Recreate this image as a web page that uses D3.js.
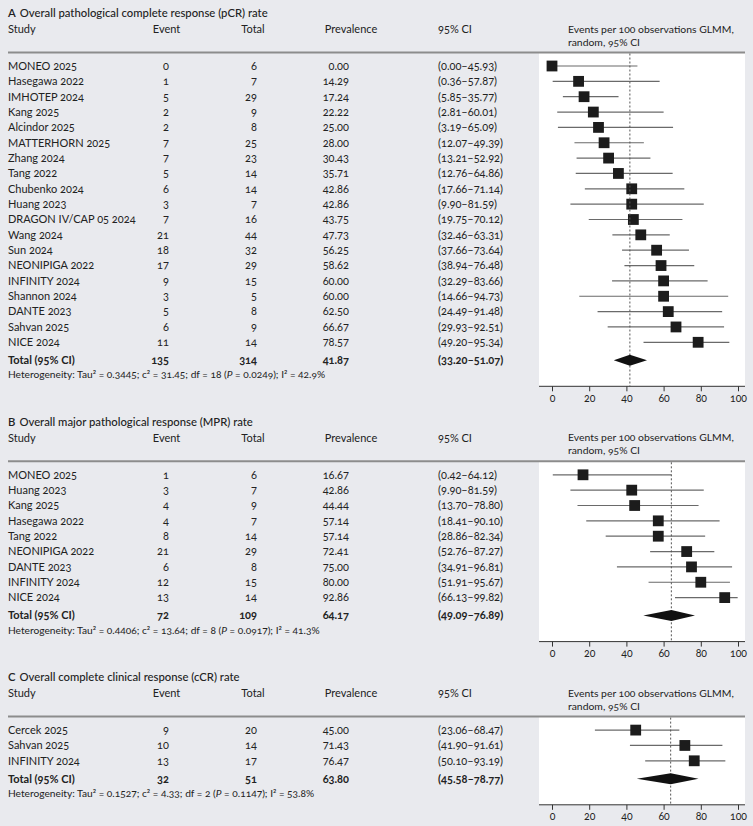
<!DOCTYPE html>
<html>
<head>
<meta charset="utf-8">
<script src="https://cdn.jsdelivr.net/npm/d3@7"></script>
<style>
body { margin: 0; background: #e9eaee; }
svg { display: block; font-family: Lato, "Open Sans", sans-serif; font-size: 11px; }
text { fill: #222; font-variant-numeric: oldstyle-nums; }
</style>
</head>
<body>
<svg id="chart" width="753" height="826"></svg>
<script>
// panel A - pCR
const pcrStudies = ["MONEO 2025", "Hasegawa 2022", "IMHOTEP 2024", "Kang 2025", "Alcindor 2025", "MATTERHORN 2025",
    "Zhang 2024", "Tang 2022", "Chubenko 2024", "Huang 2023", "DRAGON IV/CAP 05 2024", "Wang 2024", "Sun 2024",
    "NEONIPIGA 2022", "INFINITY 2024", "Shannon 2024", "DANTE 2023", "Sahvan 2025", "NICE 2024"];
const pcrEvents = [0, 1, 5, 2, 2, 7, 7, 5, 6, 3, 7, 21, 18, 17, 9, 3, 5, 6, 11];
const pcrTotals = [6, 7, 29, 9, 8, 25, 23, 14, 14, 7, 16, 44, 32, 29, 15, 5, 8, 9, 14];
const pcrPrev = [0.00, 14.29, 17.24, 22.22, 25.00, 28.00, 30.43, 35.71, 42.86, 42.86, 43.75, 47.73, 56.25, 58.62, 60.00, 60.00, 62.50, 66.67, 78.57];
const pcrLow = [0.00, 0.36, 5.85, 2.81, 3.19, 12.07, 13.21, 12.76, 17.66, 9.90, 19.75, 32.46, 37.66, 38.94, 32.29, 14.66, 24.49, 29.93, 49.20];
const pcrHigh = [45.93, 57.87, 35.77, 60.01, 65.09, 49.39, 52.92, 64.86, 71.14, 81.59, 70.12, 63.31, 73.64, 76.48, 83.66, 94.73, 91.48, 92.51, 95.34];
const pcrPooled = [135, 314, 41.87, 33.20, 51.07];
const pcrHet = ["0.3445", "31.45", "18", "0.0249", "42.9%"];

// panel B - MPR
const mprStudies = ["MONEO 2025", "Huang 2023", "Kang 2025", "Hasegawa 2022", "Tang 2022", "NEONIPIGA 2022", "DANTE 2023", "INFINITY 2024", "NICE 2024"];
const mprEvents = [1, 3, 4, 4, 8, 21, 6, 12, 13];
const mprTotals = [6, 7, 9, 7, 14, 29, 8, 15, 14];
const mprPrev = [16.67, 42.86, 44.44, 57.14, 57.14, 72.41, 75.00, 80.00, 92.86];
const mprLow = [0.42, 9.90, 13.70, 18.41, 28.86, 52.76, 34.91, 51.91, 66.13];
const mprHigh = [64.12, 81.59, 78.80, 90.10, 82.34, 87.27, 96.81, 95.67, 99.82];
const mprPooled = [72, 109, 64.17, 49.09, 76.89];
const mprHet = ["0.4406", "13.64", "8", "0.0917", "41.3%"];

// panel C - cCR
const ccrStudies = ["Cercek 2025", "Sahvan 2025", "INFINITY 2024"];
const ccrEvents = [9, 10, 13];
const ccrTotals = [20, 14, 17];
const ccrPrev = [45.00, 71.43, 76.47];
const ccrLow = [23.06, 41.90, 50.10];
const ccrHigh = [68.47, 91.61, 93.19];
const ccrPooled = [32, 51, 63.80, 45.58, 78.77];
const ccrHet = ["0.1527", "4.33", "2", "0.1147", "53.8%"];

const titles = ["Overall pathological complete response (pCR) rate",
    "Overall major pathological response (MPR) rate",
    "Overall complete clinical response (cCR) rate"];
const letters = ["A", "B", "C"];
const axisTicks = [0, 20, 40, 60, 80, 100];

function rows(studies, events, totals, prev, low, high) {
    return studies.map((s, i) => ({study: s, event: events[i], total: totals[i], prev: prev[i], lo: low[i], hi: high[i]}));
}

const panels = [
    {rows: rows(pcrStudies, pcrEvents, pcrTotals, pcrPrev, pcrLow, pcrHigh), pooled: pcrPooled, het: pcrHet},
    {rows: rows(mprStudies, mprEvents, mprTotals, mprPrev, mprLow, mprHigh), pooled: mprPooled, het: mprHet},
    {rows: rows(ccrStudies, ccrEvents, ccrTotals, ccrPrev, ccrLow, ccrHigh), pooled: ccrPooled, het: ccrHet}
];

const svg = d3.select('#chart');
const f2 = d3.format('.2f');
const ci = (lo, hi) => `(${f2(lo)}\u2013${f2(hi)})`;

const x = d3.scaleLinear().domain([0, 100]).range([552, 738]);
const boxLeft = 539, boxRight = 745;
const rowStep = 15.35;
const colStudy = 8, colEvent = 169, colTotal = 257, colPrev = 349, colCI = 438, colPlot = 568;

let panelTop = 13;
panels.forEach((p, k) => {
    const g = svg.append('g');
    const headY = panelTop + 16, ruleY = panelTop + 39.5, firstY = panelTop + 53;
    const y = i => firstY + i * rowStep;
    const totalY = y(p.rows.length - 1) + 18;
    const hetY = totalY + 14.5;
    const axisY = totalY + 26;

    // white plot box
    g.append('rect')
        .attr('x', boxLeft).attr('y', ruleY)
        .attr('width', boxRight - boxLeft).attr('height', axisY - ruleY)
        .attr('fill', '#fff');

    // title
    let t = g.append('text').attr('x', colStudy).attr('y', panelTop).attr('dy', '0.35em')
        .style('font-size', '11.3px').style('font-weight', 500);
    t.append('tspan').text(letters[k]).style('font-weight', 600);
    t.append('tspan').attr('dx', 4).text(titles[k]);

    // header
    const head = [['Study', colStudy, 'start'], ['Event', 166.5, 'middle'], ['Total', 253, 'middle'],
        ['Prevalence', 351, 'middle'], ['95% CI', colCI, 'start']];
    head.forEach(h => {
        g.append('text').attr('x', h[1]).attr('y', headY).attr('dy', '0.35em')
            .attr('text-anchor', h[2]).text(h[0]);
    });
    g.append('text').attr('x', colPlot).attr('y', headY).attr('dy', '0.35em')
        .style('font-size', '10.4px').text('Events per 100 observations GLMM,');
    g.append('text').attr('x', colPlot).attr('y', headY + 13).attr('dy', '0.35em')
        .style('font-size', '10.4px').text('random, 95% CI');

    g.append('line')
        .attr('x1', colStudy).attr('x2', boxRight)
        .attr('y1', ruleY).attr('y2', ruleY)
        .attr('stroke', '#8c8c8c').attr('stroke-width', 2);

    // table rows
    const r = g.selectAll('g.row').data(p.rows).enter().append('g').attr('class', 'row');
    r.append('text').attr('x', colStudy).attr('y', (d, i) => y(i)).attr('dy', '0.35em').text(d => d.study);
    r.append('text').attr('x', colEvent).attr('y', (d, i) => y(i)).attr('dy', '0.35em').attr('text-anchor', 'end').text(d => d.event);
    r.append('text').attr('x', colTotal).attr('y', (d, i) => y(i)).attr('dy', '0.35em').attr('text-anchor', 'end').text(d => d.total);
    r.append('text').attr('x', colPrev).attr('y', (d, i) => y(i)).attr('dy', '0.35em').attr('text-anchor', 'end').text(d => f2(d.prev));
    r.append('text').attr('x', colCI).attr('y', (d, i) => y(i)).attr('dy', '0.35em').text(d => ci(d.lo, d.hi));

    // reference line at pooled estimate
    g.append('line')
        .attr('x1', x(p.pooled[2])).attr('x2', x(p.pooled[2]))
        .attr('y1', ruleY + 1).attr('y2', axisY)
        .attr('stroke', '#555').attr('stroke-width', 1).attr('stroke-dasharray', '2,2');

    // CI whiskers and squares
    r.append('line')
        .attr('x1', d => x(d.lo)).attr('x2', d => x(d.hi))
        .attr('y1', (d, i) => y(i)).attr('y2', (d, i) => y(i))
        .attr('stroke', '#6a6a6a').attr('stroke-width', 1.2);
    r.append('rect')
        .attr('x', d => x(d.prev) - 5.4).attr('y', (d, i) => y(i) - 5.4)
        .attr('width', 10.8).attr('height', 10.8)
        .attr('fill', '#1c1c1c');

    // total row
    const tot = [[p.pooled[0], colEvent, 'end'], [p.pooled[1], colTotal, 'end'], [f2(p.pooled[2]), colPrev, 'end'],
        [ci(p.pooled[3], p.pooled[4]), colCI, 'start']];
    g.append('text').attr('x', colStudy).attr('y', totalY).attr('dy', '0.35em').style('font-weight', 700).text('Total (95% CI)');
    tot.forEach(c => {
        g.append('text').attr('x', c[1]).attr('y', totalY).attr('dy', '0.35em')
            .attr('text-anchor', c[2]).style('font-weight', 700).text(c[0]);
    });

    // diamond
    g.append('path')
        .attr('d', `M${x(p.pooled[3])},${totalY}L${x(p.pooled[2])},${totalY - 5.5}L${x(p.pooled[4])},${totalY}L${x(p.pooled[2])},${totalY + 5.5}Z`)
        .attr('fill', '#111');

    // heterogeneity
    const h = g.append('text').attr('x', colStudy).attr('y', hetY).attr('dy', '0.35em').style('font-size', '10.2px');
    h.append('tspan').text(`Heterogeneity: Tau\u00b2 = ${p.het[0]}; c\u00b2 = ${p.het[1]}; df = ${p.het[2]} (`);
    h.append('tspan').style('font-style', 'italic').text('P');
    h.append('tspan').text(` = ${p.het[3]}); I\u00b2 = ${p.het[4]}`);

    // axis
    g.append('line')
        .attr('x1', boxLeft).attr('x2', boxRight)
        .attr('y1', axisY).attr('y2', axisY)
        .attr('stroke', '#333').attr('stroke-width', 1);
    const ax = g.append('g')
        .attr('transform', `translate(0,${axisY})`)
        .call(d3.axisBottom(x).tickValues(axisTicks).tickSize(5).tickSizeOuter(0).tickPadding(3));
    ax.select('.domain').remove();
    ax.selectAll('.tick line').attr('stroke', '#333');
    ax.selectAll('.tick text').style('font-family', 'Lato, "Open Sans", sans-serif').style('font-size', '10.5px').attr('fill', '#333');

    panelTop = axisY + 10.5 + 25;
});
</script>
</body>
</html>
